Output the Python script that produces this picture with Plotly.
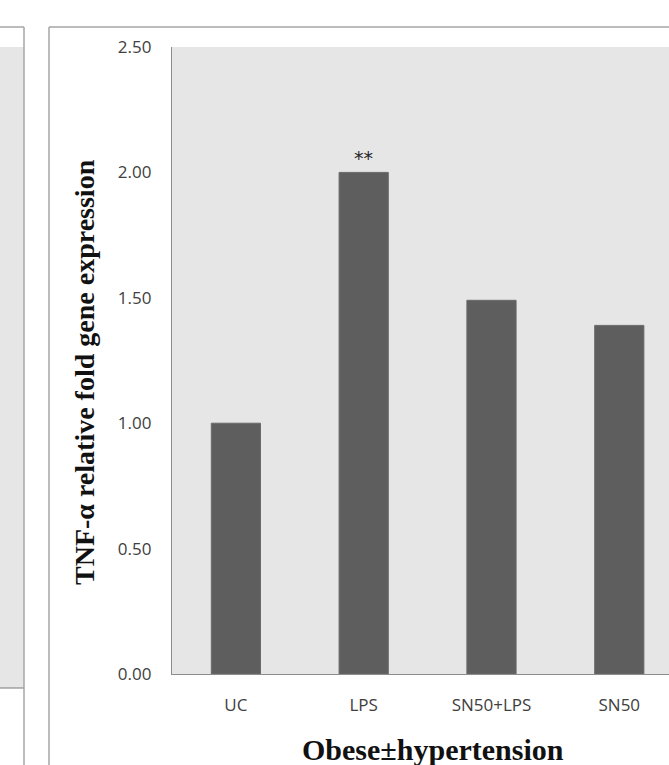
import plotly.graph_objects as go

# Data
categories = ["UC", "LPS", "SN50+LPS", "SN50"]
fold_change = [1.00, 2.00, 1.49, 1.39]
significance = ["", "**", "", ""]
y_ticks = [0.0, 0.5, 1.0, 1.5, 2.0, 2.5]
y_tick_labels = ["0.00", "0.50", "1.00", "1.50", "2.00", "2.50"]

W, H = 669, 765
L, T, B = 172, 47, 91          # plot area margins (px)
PW = W - L                     # plot area width
PH = H - T - B                 # plot area height


def px_x(px):
    return (px - L) / PW


def px_y(py):
    return (H - B - py) / PH


fig = go.Figure(
    go.Bar(
        x=categories,
        y=fold_change,
        marker=dict(color="#5e5e5e", line=dict(color="#6a6a6a", width=1)),
        width=0.385,
        hoverinfo="x+y",
    )
)

# significance marks above bars
for cat, val, sig in zip(categories, fold_change, significance):
    if sig:
        fig.add_annotation(
            x=cat, y=val, text=sig, showarrow=False,
            yanchor="bottom", yshift=1,
            font=dict(family="DejaVu Sans", size=19, color="#262626"),
        )

# axis titles
fig.add_annotation(
    xref="paper", yref="paper", x=px_x(84), y=px_y(372),
    text="<b>TNF-α relative fold gene expression</b>", textangle=-90,
    showarrow=False, xanchor="center", yanchor="middle",
    font=dict(family="Liberation Serif", size=28, color="#111111"),
)
fig.add_annotation(
    xref="paper", yref="paper", x=px_x(433), y=px_y(749),
    text="<b>Obese±hypertension</b>",
    showarrow=False, xanchor="center", yanchor="middle",
    font=dict(family="Liberation Serif", size=30, color="#111111"),
)

border = dict(color="#a6a6a6", width=1.5)
shapes = [
    # neighbouring panel (partly visible at left edge)
    dict(type="rect", xref="paper", yref="paper",
         x0=px_x(0), x1=px_x(24), y0=px_y(688), y1=px_y(47),
         fillcolor="#e6e6e6", line=dict(width=0), layer="below"),
    dict(type="line", xref="paper", yref="paper",
         x0=px_x(0), x1=px_x(24), y0=px_y(688), y1=px_y(688),
         line=dict(color="#8c8c8c", width=1.2)),
    dict(type="line", xref="paper", yref="paper",
         x0=px_x(24), x1=px_x(24), y0=px_y(27), y1=px_y(765), line=border),
    dict(type="line", xref="paper", yref="paper",
         x0=px_x(0), x1=px_x(24), y0=px_y(27), y1=px_y(27), line=border),
    # this panel's frame
    dict(type="line", xref="paper", yref="paper",
         x0=px_x(49), x1=px_x(49), y0=px_y(27), y1=px_y(765), line=border),
    dict(type="line", xref="paper", yref="paper",
         x0=px_x(49), x1=px_x(669), y0=px_y(27), y1=px_y(27), line=border),
]

fig.update_layout(
    width=W, height=H,
    margin=dict(l=L, r=0, t=T, b=B, pad=0),
    paper_bgcolor="white",
    plot_bgcolor="#e6e6e6",
    showlegend=False,
    shapes=shapes,
    xaxis=dict(
        range=[-0.5, 3.389],
        showgrid=False, zeroline=False,
        showline=True, linecolor="#8c8c8c", linewidth=1.2,
        ticks="", ticklabelstandoff=15,
        tickfont=dict(family="Open Sans", size=17, color="#404040"),
    ),
    yaxis=dict(
        range=[0, 2.5],
        tickvals=y_ticks, ticktext=y_tick_labels,
        showgrid=False, zeroline=False,
        showline=True, linecolor="#8c8c8c", linewidth=1.2,
        ticks="", ticklabelstandoff=16,
        tickfont=dict(family="Open Sans", size=17, color="#404040"),
    ),
)

fig.write_html("out.html")
